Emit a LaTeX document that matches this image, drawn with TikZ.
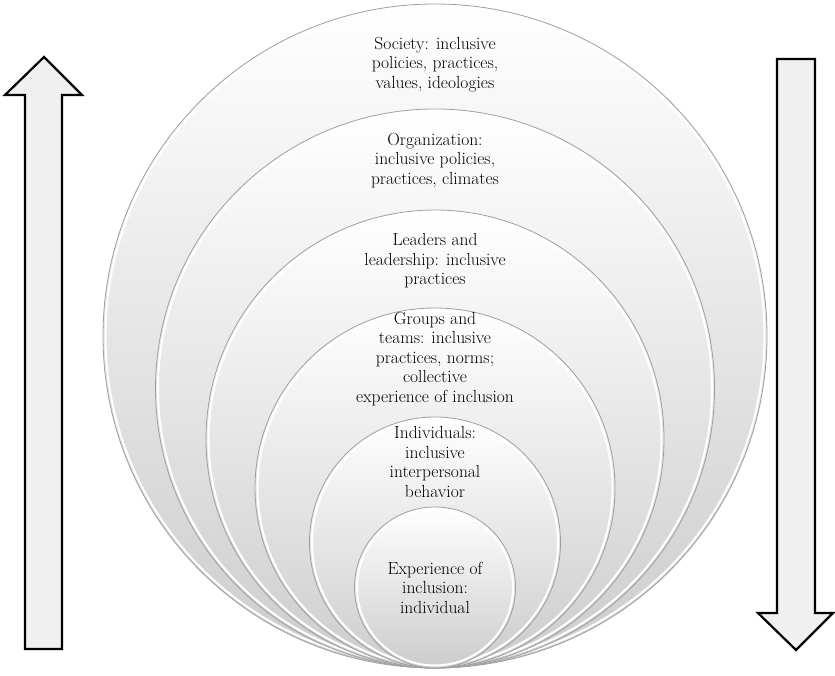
\documentclass[tikz,border=0pt]{standalone}
\usepackage{fontspec}
\usepackage{tikz}
\usetikzlibrary{positioning}

\begin{document}
\begin{tikzpicture}[x=1pt, y=-1pt,
    ring/.style={circle, draw=gray!75, line width=0.8pt, inner sep=0pt,
      top color=white, bottom color=gray!40},
    caption/.style={align=center, inner sep=0pt, text=black,
      font=\fontsize{17.5}{19.5}\selectfont},
    bigarrow/.style={draw=black, line width=2.2pt, fill=gray!12, line join=miter}]
  \useasboundingbox (0,0) rectangle (835,676);

  \foreach \r/\al/\off/\lab in {%
    332/society/33/{Society: inclusive\\ policies, practices,\\ values, ideologies},%
    279.5/organization/24/{Organization:\\ inclusive policies,\\ practices, climates},%
    229/leaders/24/{Leaders and\\ leadership: inclusive\\ practices},%
    180/groups/4/{Groups and\\ teams: inclusive\\ practices, norms;\\ collective\\ experience of inclusion},%
    125.5/individuals/10/{Individuals:\\ inclusive\\ interpersonal\\ behavior},%
    80.5/experience/55/{Experience of\\ inclusion:\\ individual}%
  }{ \node[ring, minimum size={2*\r pt}] (\al) at (435, 668-\r) {};
     \draw[white, line width=2pt] (\al.center) circle [radius=\r-2.5];
     \node[caption, below=\off pt of \al.north] (\al-txt) {\lab}; }

  % up arrow (left) and down arrow (right)
  \draw[bigarrow] (25,649) -- (25,95) -- (5,95) -- (44,57) -- (82,95)
    -- (62,95) -- (62,649) -- cycle;
  \draw[bigarrow] (777,59) -- (815,59) -- (815,613) -- (833,613)
    -- (796,650) -- (758,613) -- (777,613) -- cycle;
\end{tikzpicture}
\end{document}
